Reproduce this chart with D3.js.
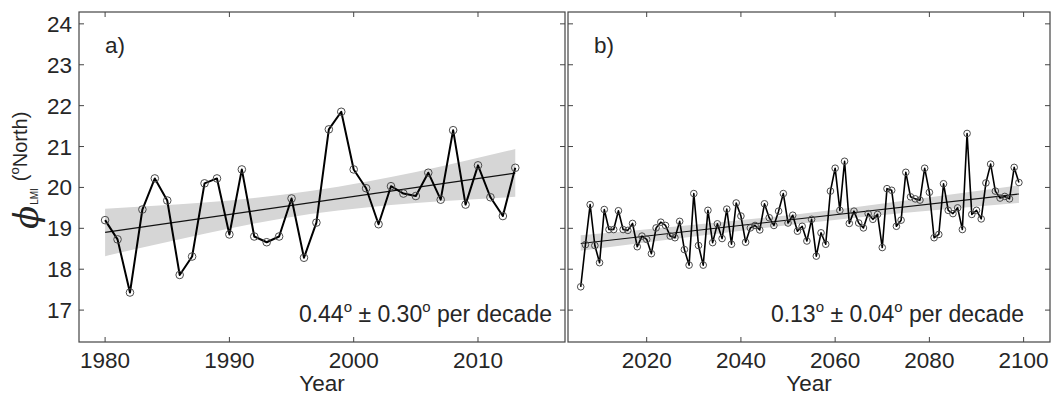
<!DOCTYPE html>
<html>
<head>
<meta charset="utf-8">
<script src="https://cdn.jsdelivr.net/npm/d3@7"></script>
<style>
  body { margin: 0; background: #fff; }
  text { font-family: "Liberation Sans", Arial, sans-serif; fill: #262626; }
</style>
</head>
<body>
<script>
// panel a: observed 1980-2013
var yearsA = d3.range(1980, 2014);
var valuesA = [19.2, 18.73, 17.43, 19.46, 20.22, 19.68, 17.86, 18.31, 20.1, 20.22,
               18.85, 20.44, 18.8, 18.66, 18.8, 19.73, 18.28, 19.14, 21.42, 21.85,
               20.44, 19.98, 19.1, 20.03, 19.85, 19.79, 20.36, 19.7, 21.4, 19.58,
               20.54, 19.76, 19.3, 20.48];
var trendYearsA = [1980, 2013];
var trendA = [18.9, 20.35];
var bandYearsA = [1980, 1984, 1988, 1992, 1996.5, 2001, 2005, 2009, 2013];
var bandLoA = [18.32, 18.6, 18.87, 19.12, 19.35, 19.51, 19.62, 19.7, 19.77];
var bandHiA = [19.48, 19.55, 19.63, 19.74, 19.91, 20.14, 20.38, 20.65, 20.94];

// panel b: projection 2006-2099
var yearsB = d3.range(2006, 2100);
var valuesB = [17.57, 18.6, 19.58, 18.58,
               18.16, 19.46, 18.97, 18.97, 19.43, 18.97, 18.95, 19.12, 18.55, 18.81,
               18.73, 18.38, 19.01, 19.15, 19.07, 18.81, 18.77, 19.17, 18.48, 18.1,
               19.85, 18.58, 18.1, 19.44, 18.65, 19.11, 18.75, 19.47, 18.61, 19.62,
               19.3, 18.66, 19.01, 19.07, 18.96, 19.6, 19.26, 19.07, 19.42, 19.85,
               19.13, 19.32, 18.93, 19.05, 18.69, 19.22, 18.32, 18.89, 18.61, 19.91,
               20.47, 19.44, 20.64, 19.12, 19.42, 19.13, 19.01, 19.36, 19.22, 19.34,
               18.53, 19.97, 19.93, 19.05, 19.2, 20.37, 19.77, 19.72, 19.69, 20.47,
               19.88, 18.77, 18.85, 20.09, 19.44, 19.36, 19.5, 18.97, 21.32, 19.34,
               19.44, 19.23, 20.11, 20.57, 19.91, 19.74, 19.78, 19.72, 20.49, 20.12];
var trendYearsB = [2006, 2099];
var trendB = [18.63, 19.84];
var bandYearsB = [2006, 2030, 2052.5, 2075, 2099];
var bandLoB = [18.45, 18.8, 19.11, 19.38, 19.62];
var bandHiB = [18.83, 19.09, 19.35, 19.68, 20.05];

var yTicks = [17, 18, 19, 20, 21, 22, 23, 24];
var xTicksA = [1980, 1990, 2000, 2010];
var xTicksB = [2020, 2040, 2060, 2080, 2100];

var width = 1052;
var height = 395;
var plotTop = 12, plotBottom = 342;

var svg = d3.select('body').append('svg')
    .attr('width', width)
    .attr('height', height);

var y = d3.scaleLinear()
    .domain([16.22, 24.29])
    .range([plotBottom, plotTop]);

function panel(opt) {
    var x = d3.scaleLinear().domain(opt.domain).range([opt.left, opt.right]);
    var g = svg.append('g');

    var band = d3.area()
        .x(function(d) { return x(d[0]); })
        .y0(function(d) { return y(d[1]); })
        .y1(function(d) { return y(d[2]); })
        .curve(d3.curveMonotoneX);
    g.append('path')
        .attr('d', band(opt.bandYears.map(function(t, i) { return [t, opt.bandLo[i], opt.bandHi[i]]; })))
        .attr('fill', '#d6d6d6');

    g.append('path')
        .attr('d', d3.line()(opt.trendYears.map(function(t, i) { return [x(t), y(opt.trend[i])]; })))
        .attr('stroke', '#111').attr('stroke-width', 1.1).attr('fill', 'none');

    var pts = opt.years.map(function(t, i) { return [t, opt.values[i]]; });
    g.append('path')
        .attr('d', d3.line().x(function(d) { return x(d[0]); }).y(function(d) { return y(d[1]); })(pts))
        .attr('stroke', '#000').attr('stroke-width', opt.lw).attr('fill', 'none')
        .attr('stroke-linejoin', 'round');
    g.selectAll('circle.pt').data(pts).enter().append('circle')
        .attr('class', 'pt')
        .attr('cx', function(d) { return x(d[0]); })
        .attr('cy', function(d) { return y(d[1]); })
        .attr('r', opt.r)
        .attr('fill', 'none')
        .attr('stroke', '#4a4a4a')
        .attr('stroke-width', 1);

    // box with inward ticks on all sides
    var ax = g.append('g');
    ax.append('rect')
        .attr('x', opt.left).attr('y', plotTop)
        .attr('width', opt.right - opt.left).attr('height', plotBottom - plotTop)
        .attr('fill', 'none').attr('stroke', '#444').attr('stroke-width', 1.2);
    var tl = 5;
    opt.xTicks.forEach(function(t) {
        ax.append('line').attr('x1', x(t)).attr('x2', x(t)).attr('y1', plotBottom).attr('y2', plotBottom - tl)
            .attr('stroke', '#444');
        ax.append('line').attr('x1', x(t)).attr('x2', x(t)).attr('y1', plotTop).attr('y2', plotTop + tl)
            .attr('stroke', '#444');
        ax.append('text').attr('x', x(t)).attr('y', plotBottom + 26)
            .attr('text-anchor', 'middle').attr('font-size', 22.5).text(t);
    });
    yTicks.forEach(function(v) {
        ax.append('line').attr('x1', opt.left).attr('x2', opt.left + tl).attr('y1', y(v)).attr('y2', y(v))
            .attr('stroke', '#444');
        ax.append('line').attr('x1', opt.right).attr('x2', opt.right - tl).attr('y1', y(v)).attr('y2', y(v))
            .attr('stroke', '#444');
        if (opt.yLabels) {
            ax.append('text').attr('x', opt.left - 7).attr('y', y(v) + 8)
                .attr('text-anchor', 'end').attr('font-size', 22.5).text(v);
        }
    });

    ax.append('text').attr('x', (opt.left + opt.right) / 2).attr('y', 391)
        .attr('text-anchor', 'middle').attr('font-size', 22.5).text('Year');

    g.append('text').attr('x', opt.left + 26).attr('y', 53)
        .attr('font-size', 22.5).text(opt.tag);

    var note = g.append('text').attr('x', opt.noteX).attr('y', 322)
        .attr('text-anchor', 'end').attr('font-size', 23);
    note.append('tspan').text(opt.note[0]);
    note.append('tspan').attr('dy', -10).attr('font-size', 15).text('o');
    note.append('tspan').attr('dy', 10).text(' \u00b1 ' + opt.note[1]);
    note.append('tspan').attr('dy', -10).attr('font-size', 15).text('o');
    note.append('tspan').attr('dy', 10).text(' per decade');
}

panel({
    left: 79, right: 565, domain: [1977.9, 2017.0],
    years: yearsA, values: valuesA,
    trendYears: trendYearsA, trend: trendA,
    bandYears: bandYearsA, bandLo: bandLoA, bandHi: bandHiA,
    xTicks: xTicksA, yLabels: true, tag: 'a)',
    note: ['0.44', '0.30'], noteX: 552, lw: 2, r: 3.8
});

panel({
    left: 568, right: 1050, domain: [2003.3, 2105.6],
    years: yearsB, values: valuesB,
    trendYears: trendYearsB, trend: trendB,
    bandYears: bandYearsB, bandLo: bandLoB, bandHi: bandHiB,
    xTicks: xTicksB, yLabels: false, tag: 'b)',
    note: ['0.13', '0.04'], noteX: 1024, lw: 1.6, r: 3.3
});

// y axis label
var yl = svg.append('text')
    .attr('transform', 'translate(38,229) rotate(-90)')
    .attr('text-anchor', 'start');
yl.append('tspan').attr('font-size', 34).attr('font-style', 'italic')
    .attr('font-family', 'DejaVu Serif').text('\u03d5');
yl.append('tspan').attr('font-size', 10).attr('dy', 0).attr('dx', 1).text('LMI');
yl.append('tspan').attr('font-size', 20).attr('dy', -11).attr('dx', 7).text('(');
yl.append('tspan').attr('font-size', 13).attr('dy', -8).text('o');
yl.append('tspan').attr('font-size', 20).attr('dy', 8).text('North)');
</script>
</body>
</html>
